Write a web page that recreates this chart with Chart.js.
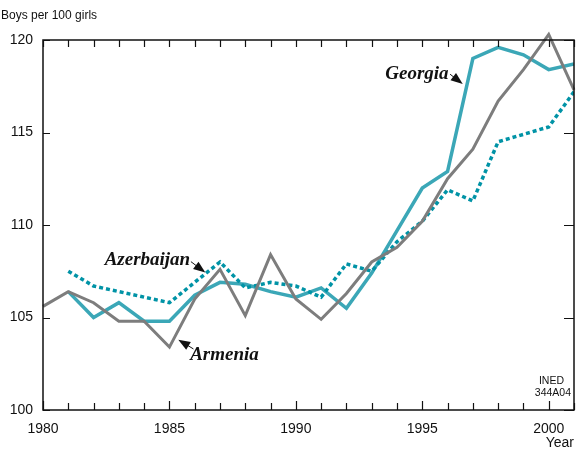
<!DOCTYPE html>
<html>
<head>
<meta charset="utf-8">
<script src="https://cdn.jsdelivr.net/npm/chart.js@4"></script>
<style>
  html, body { margin: 0; padding: 0; background: #fff; }
  #wrap { width: 586px; height: 450px; position: relative; }
</style>
</head>
<body>
<div id="wrap"><canvas id="chart"></canvas></div>
<script>
// data (sex ratio at birth)
const georgiaYears = [1981, 1982, 1983, 1984, 1985, 1986, 1987, 1988, 1989, 1990, 1991, 1992, 1993, 1994, 1995, 1996, 1997, 1998, 1999, 2000, 2001];
const georgia = [106.4, 105.0, 105.8, 104.8, 104.8, 106.2, 106.9, 106.8, 106.4, 106.1, 106.6, 105.5, 107.4, 109.7, 112.0, 112.9, 119.0, 119.6, 119.2, 118.4, 118.7];

const armeniaYears = [1980, 1981, 1982, 1983, 1984, 1985, 1986, 1987, 1988, 1989, 1990, 1991, 1992, 1993, 1994, 1995, 1996, 1997, 1998, 1999, 2000, 2001];
const armenia = [105.6, 106.4, 105.8, 104.8, 104.8, 103.4, 106.0, 107.6, 105.1, 108.4, 106.0, 104.9, 106.3, 108.0, 108.8, 110.2, 112.5, 114.1, 116.7, 118.4, 120.3, 117.3];

const azerbaijanYears = [1981, 1982, 1983, 1984, 1985, 1986, 1987, 1988, 1989, 1990, 1991, 1992, 1993, 1994, 1995, 1996, 1997, 1998, 1999, 2000, 2001];
const azerbaijan = [107.5, 106.7, 106.4, 106.1, 105.8, 106.9, 108.0, 106.6, 106.9, 106.7, 106.1, 107.9, 107.5, 109.1, 110.2, 111.9, 111.3, 114.5, 114.9, 115.3, 117.2];

const yTicks = [100, 105, 110, 115, 120];
const xTicks = [1980, 1985, 1990, 1995, 2000];

// callouts: label anchor, arrow start, arrow tip (in data units)
const callouts = [
  { text: "Georgia", align: "right", at: [1996.04, 117.9], from: [1996.1, 118.15], to: [1996.6, 117.62] },
  { text: "Azerbaijan", align: "right", at: [1985.82, 107.86], from: [1985.85, 108.02], to: [1986.42, 107.43] },
  { text: "Armenia", align: "left", at: [1985.82, 102.7], from: [1985.95, 103.3], to: [1985.35, 103.8] }
];

const pts = (xs, ys) => xs.map((x, i) => ({ x: x, y: ys[i] }));

const frame = {
  id: "frame",
  afterDatasetsDraw(chart) {
    const ctx = chart.ctx;
    const a = chart.chartArea;
    const xs = chart.scales.x, ys = chart.scales.y;
    ctx.save();
    ctx.strokeStyle = "#111";
    ctx.lineWidth = 1.5;
    ctx.strokeRect(a.left, a.top, a.right - a.left, a.bottom - a.top);
    ctx.lineWidth = 1.2;
    ctx.beginPath();
    for (let yr = 1980; yr <= 2001; yr++) {
      const px = Math.round(xs.getPixelForValue(yr)) + 0.5;
      const len = yr % 5 === 0 ? 9 : 7;
      ctx.moveTo(px, a.bottom); ctx.lineTo(px, a.bottom - len);
      ctx.moveTo(px, a.top); ctx.lineTo(px, a.top + 7);
    }
    yTicks.forEach(v => {
      const py = Math.round(ys.getPixelForValue(v)) + 0.5;
      ctx.moveTo(a.left, py); ctx.lineTo(a.left + 7, py);
      ctx.moveTo(a.right, py); ctx.lineTo(a.right - 10, py);
    });
    ctx.stroke();

    // callouts
    ctx.fillStyle = "#111";
    ctx.font = "italic bold 19px 'Liberation Serif', 'DejaVu Serif', serif";
    ctx.textBaseline = "alphabetic";
    callouts.forEach(c => {
      ctx.textAlign = c.align;
      ctx.fillText(c.text, xs.getPixelForValue(c.at[0]), ys.getPixelForValue(c.at[1]));
      const x0 = xs.getPixelForValue(c.from[0]), y0 = ys.getPixelForValue(c.from[1]);
      const x1 = xs.getPixelForValue(c.to[0]), y1 = ys.getPixelForValue(c.to[1]);
      const ang = Math.atan2(y1 - y0, x1 - x0);
      const hl = 12, hw = 4.5;
      ctx.beginPath();
      ctx.moveTo(x1, y1);
      ctx.lineTo(x1 - hl * Math.cos(ang) + hw * Math.sin(ang), y1 - hl * Math.sin(ang) - hw * Math.cos(ang));
      ctx.lineTo(x1 - hl * Math.cos(ang) - hw * Math.sin(ang), y1 - hl * Math.sin(ang) + hw * Math.cos(ang));
      ctx.closePath();
      ctx.fill();
      ctx.lineWidth = 1;
      ctx.beginPath();
      ctx.moveTo(x0, y0); ctx.lineTo(x1 - 6 * Math.cos(ang), y1 - 6 * Math.sin(ang));
      ctx.stroke();
    });

    // small texts
    ctx.font = "12px 'Liberation Sans', sans-serif";
    ctx.textAlign = "left";
    ctx.fillText("Boys per 100 girls", 1, 19);
    ctx.font = "14px 'Liberation Sans', sans-serif";
    ctx.textAlign = "right";
    ctx.fillText("Year", 574, 447);
    ctx.font = "10.5px 'Liberation Sans', sans-serif";
    ctx.fillText("INED", 564, 384);
    ctx.fillText("344A04", 571, 396);
    ctx.restore();
  }
};

new Chart(document.getElementById("chart"), {
  type: "line",
  data: {
    datasets: [
      {
        label: "Armenia",
        data: pts(armeniaYears, armenia),
        borderColor: "#7d7d7d",
        borderWidth: 3,
        pointRadius: 0,
        tension: 0,
        clip: false,
        order: 1
      },
      {
        label: "Azerbaijan",
        data: pts(azerbaijanYears, azerbaijan),
        borderColor: "#0093a6",
        borderWidth: 3.5,
        borderDash: [4, 3],
        pointRadius: 0,
        tension: 0,
        order: 2
      },
      {
        label: "Georgia",
        data: pts(georgiaYears, georgia),
        borderColor: "#3ba7b7",
        borderWidth: 3.5,
        pointRadius: 0,
        tension: 0,
        order: 3
      }
    ]
  },
  options: {
    responsive: true,
    maintainAspectRatio: false,
    animation: false,
    layout: { padding: { top: 40, right: 12, left: 0, bottom: 0 } },
    plugins: { legend: { display: false }, tooltip: { enabled: false } },
    scales: {
      x: {
        type: "linear",
        min: 1980,
        max: 2001,
        grid: { display: false },
        border: { display: false },
        ticks: {
          stepSize: 5,
          includeBounds: false,
          padding: 3,
          color: "#111",
          font: { family: "'Liberation Sans', sans-serif", size: 14 },
          callback: v => (xTicks.includes(v) ? String(v) : "")
        },
        afterFit: s => { s.height = 40; }
      },
      y: {
        min: 100,
        max: 120,
        grid: { display: false },
        border: { display: false },
        ticks: {
          stepSize: 5,
          padding: 2,
          color: "#111",
          font: { family: "'Liberation Sans', sans-serif", size: 14 },
          callback: v => (yTicks.includes(v) ? String(v) : "")
        },
        afterFit: s => { s.width = 43; }
      }
    }
  },
  plugins: [frame]
});
</script>
</body>
</html>
